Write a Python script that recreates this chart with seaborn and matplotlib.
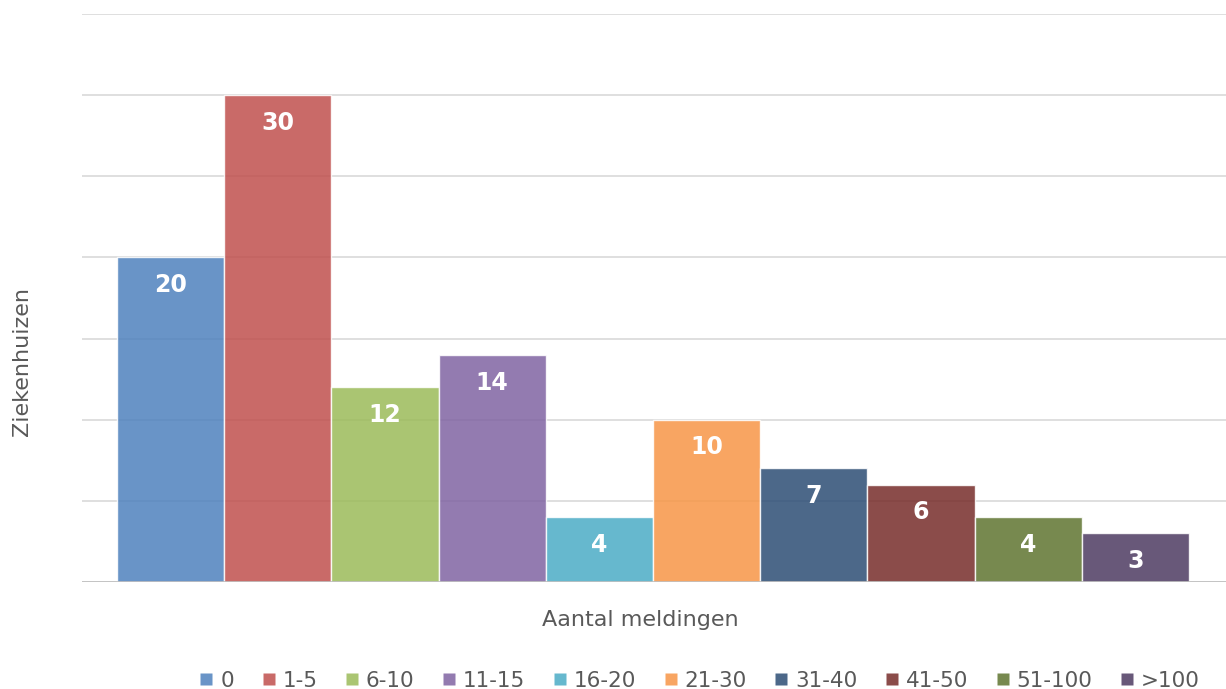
import matplotlib
matplotlib.use("Agg")
import matplotlib.pyplot as plt
from matplotlib.lines import Line2D
import seaborn as sns
import pandas as pd

categories = ["0", "1-5", "6-10", "11-15", "16-20", "21-30", "31-40", "41-50", "51-100", ">100"]
ziekenhuizen = [20, 30, 12, 14, 4, 10, 7, 6, 4, 3]
colors = ["#4F81BD", "#C0504D", "#9BBB59", "#8064A2", "#4BACC6",
          "#F79646", "#2C4D75", "#772C2A", "#5F7530", "#4D3B62"]

df = pd.DataFrame({"cat": categories, "val": ziekenhuizen})

sns.set_theme(style="white")
plt.rcParams["font.family"] = ["DejaVu Sans"]
text_color = "#595959"

fig = plt.figure(figsize=(12.26, 6.89), dpi=100)
ax = fig.add_axes([82 / 1226, 1 - 582 / 689, 1 - 82 / 1226, (582 - 14) / 689])

sns.barplot(data=df, x="cat", y="val", hue="cat", palette=colors, width=1.0,
            dodge=False, legend=False, saturation=1, alpha=0.85, edgecolor="white",
            linewidth=1.0, ax=ax, zorder=3)

ax.set_ylim(0, 35)
ax.set_xlim(-0.826, 9.845)
ax.set_yticks(range(0, 36, 5))
ax.yaxis.grid(True, color="#D9D9D9", linewidth=1.2, zorder=0)
ax.set_axisbelow(True)
ax.axhline(0, color="#BFBFBF", linewidth=1.2, zorder=4)
ax.set_xticks([])
ax.set_yticklabels([])
ax.tick_params(left=False, bottom=False)
ax.set_xlabel("")
ax.set_ylabel("")
for s in ax.spines.values():
    s.set_visible(False)

for bar, v in zip(ax.patches, ziekenhuizen):
    ax.annotate(str(v), (bar.get_x() + bar.get_width() / 2, bar.get_height()),
                xytext=(0, -20), textcoords="offset points", ha="center", va="center",
                color="white", fontsize=17, fontweight="bold", zorder=5)

fig.text(640 / 1226, 1 - 620 / 689, "Aantal meldingen", ha="center", va="center",
         fontsize=16, color=text_color)
fig.text(22 / 1226, 1 - 361 / 689, "Ziekenhuizen", ha="center", va="center",
         rotation=90, fontsize=16, color=text_color)

handles = [Line2D([0], [0], marker="s", linestyle="none", markersize=9,
                  markerfacecolor=c, markeredgecolor="none", alpha=0.85) for c in colors]
leg = fig.legend(handles, categories, loc="center left", ncol=10,
                 bbox_to_anchor=(200 / 1226, 1 - 681 / 689), frameon=False,
                 fontsize=15.5, handlelength=0.6, handletextpad=0.35, columnspacing=1.3,
                 borderpad=0, borderaxespad=0)
for t in leg.get_texts():
    t.set_color(text_color)

fig.savefig("out.png", dpi=100)
